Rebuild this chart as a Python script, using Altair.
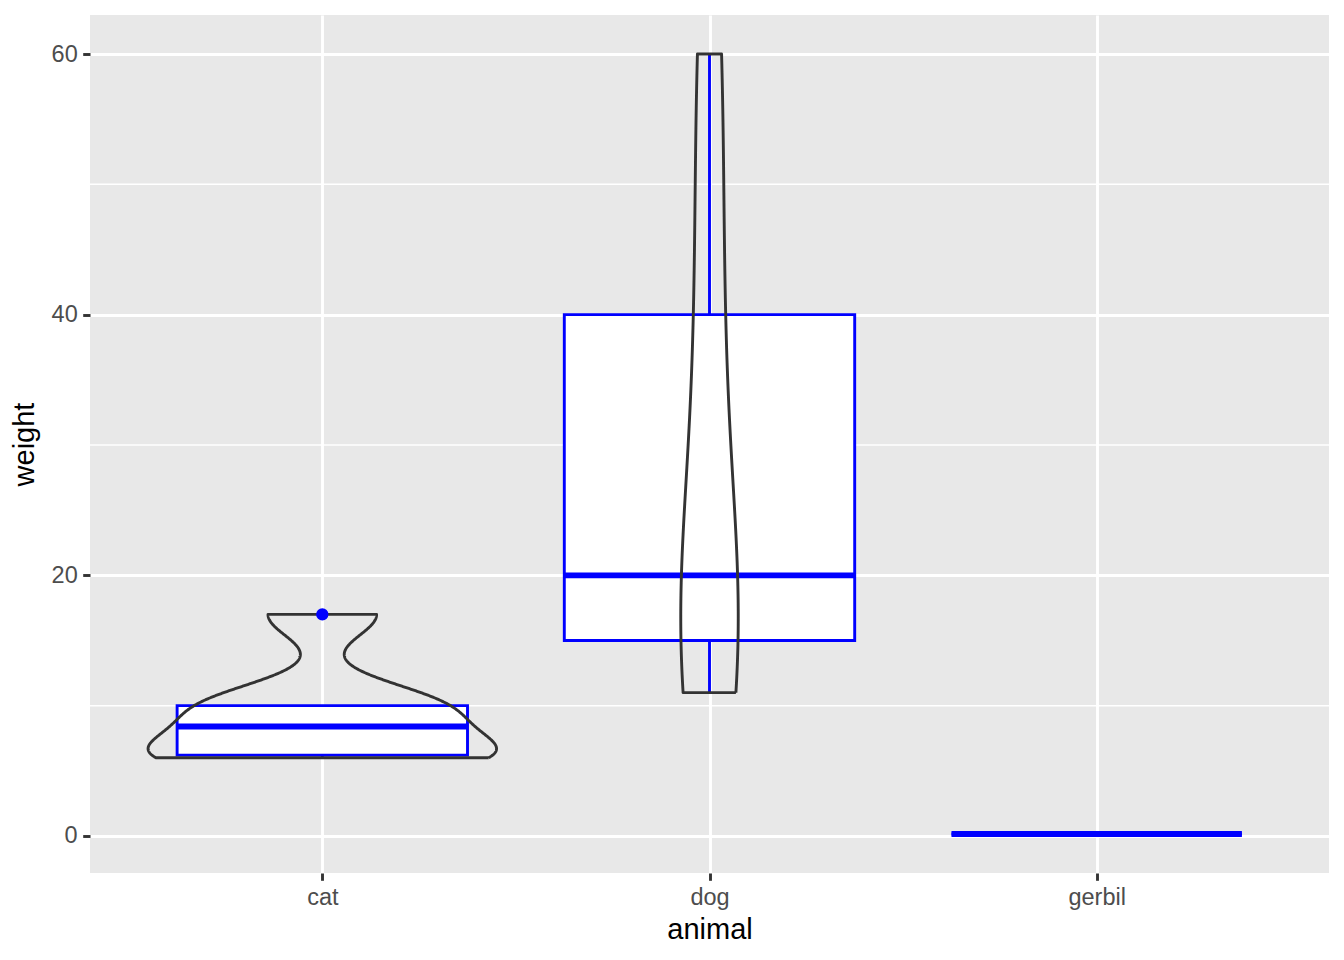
import altair as alt
import numpy as np
import pandas as pd

animals = ["cat", "dog", "gerbil"]
cat_weight = [6.0, 6.0, 6.8, 10.0, 10.0, 17.0]
dog_weight = [11.0, 15.0, 20.0, 40.0, 60.0]
gerbil_weight = [0.15]
weights = {"cat": cat_weight, "dog": dog_weight, "gerbil": gerbil_weight}

y_ticks = [0, 20, 40, 60]
y_minor = [10, 30, 50]

BLUE = "#0000FF"


def bw_nrd0(x):
    x = np.asarray(x, float)
    hi = np.std(x, ddof=1)
    q75, q25 = np.percentile(x, [75, 25])
    lo = min(hi, (q75 - q25) / 1.34)
    if not lo:
        lo = hi or abs(x[0]) or 1.0
    return 0.9 * lo * len(x) ** -0.2


box_rows, out_rows, vio = [], [], []
for i, a in enumerate(animals):
    v = np.asarray(weights[a], float)
    pos = i + 1
    q1, med, q3 = np.percentile(v, [25, 50, 75])
    iqr = q3 - q1
    mask = (v >= q1 - 1.5 * iqr) & (v <= q3 + 1.5 * iqr)
    inside = v[mask]
    box_rows.append(dict(animal=a, pos=pos, left=pos - 0.375, right=pos + 0.375,
                         q1=q1, med=med, q3=q3, lo=inside.min(), hi=inside.max()))
    for o in v[~mask]:
        out_rows.append(dict(animal=a, pos=pos, w=o))
    if len(v) >= 2:
        bw = bw_nrd0(v)
        grid = np.linspace(v.min(), v.max(), 512)
        dens = np.exp(-0.5 * ((grid[:, None] - v[None, :]) / bw) ** 2).sum(1) / (len(v) * bw * np.sqrt(2 * np.pi))
        vio.append((a, pos, grid, dens))

maxd = max(d.max() for *_, d in vio)
vrows = []
for a, pos, grid, dens in vio:
    hw = 0.45 * dens / maxd
    xs = np.concatenate([pos + hw, (pos - hw)[::-1], [pos + hw[0]]])
    ys = np.concatenate([grid, grid[::-1], [grid[0]]])
    for k, (xx, yy) in enumerate(zip(xs, ys)):
        vrows.append(dict(animal=a, order=k, x=xx, y=yy))

box_df = pd.DataFrame(box_rows)
out_df = pd.DataFrame(out_rows)
vio_df = pd.DataFrame(vrows)
minor_df = pd.DataFrame({"v": y_minor})

allv = np.concatenate([np.asarray(weights[a], float) for a in animals])
rng = allv.max() - allv.min()
ydom = [allv.min() - 0.05 * rng, allv.max() + 0.05 * rng]

xscale = alt.Scale(domain=[0.4, len(animals) + 0.6], nice=False, zero=False)
yscale = alt.Scale(domain=ydom, nice=False, zero=False)
label_expr = "[" + ",".join("'%s'" % a for a in animals) + "][datum.value - 1]"
xaxis = alt.Axis(values=list(range(1, len(animals) + 1)), labelExpr=label_expr, title="animal")
yaxis = alt.Axis(values=y_ticks, title="weight")


def X(f):
    return alt.X(f, type="quantitative", scale=xscale, axis=xaxis)


def Y(f):
    return alt.Y(f, type="quantitative", scale=yscale, axis=yaxis)


minor = alt.Chart(minor_df).mark_rule(color="white", strokeWidth=1.5).encode(y=Y("v"))

whisk_lo = alt.Chart(box_df).mark_rule(color=BLUE, strokeWidth=2.9).encode(
    x=X("pos"), y=Y("lo"), y2="q1")
whisk_hi = alt.Chart(box_df).mark_rule(color=BLUE, strokeWidth=2.9).encode(
    x=X("pos"), y=Y("q3"), y2="hi")
box = alt.Chart(box_df).mark_rect(fill="white", stroke=BLUE, strokeWidth=2.9).encode(
    x=X("left"), x2="right", y=Y("q1"), y2="q3")
median = alt.Chart(box_df).mark_rule(color=BLUE, strokeWidth=5.8).encode(
    x=X("left"), x2="right", y=Y("med"))
violin = alt.Chart(vio_df).mark_line(color="#333333", strokeWidth=2.9, strokeJoin="round").encode(
    x=X("x"), y=Y("y"), detail="animal:N", order="order:Q")
outl = alt.Chart(out_df).mark_circle(color=BLUE, opacity=1, size=150).encode(
    x=X("pos"), y=Y("w"))

chart = alt.layer(minor, whisk_lo, whisk_hi, box, median, violin, outl).properties(
    width=1239, height=858,
    autosize=alt.AutoSizeParams(type="none"),
    padding={"left": 82, "top": 7, "right": 7, "bottom": 79},
).configure_view(fill="#E8E8E8", stroke=None).configure_axis(
    grid=True, gridColor="white", gridWidth=2.9, domain=False,
    tickColor="#333333", tickWidth=2.9, tickSize=7.3,
    labelFont="Liberation Sans", labelFontSize=23.5, labelColor="#4D4D4D", labelPadding=5.5,
    titleFont="Liberation Sans", titleFontSize=29, titleColor="black", titleFontWeight="normal",
).configure_axisX(titlePadding=6).configure_axisY(titlePadding=12)

chart.save("out.html", embed_options={"renderer": "svg", "actions": False})
